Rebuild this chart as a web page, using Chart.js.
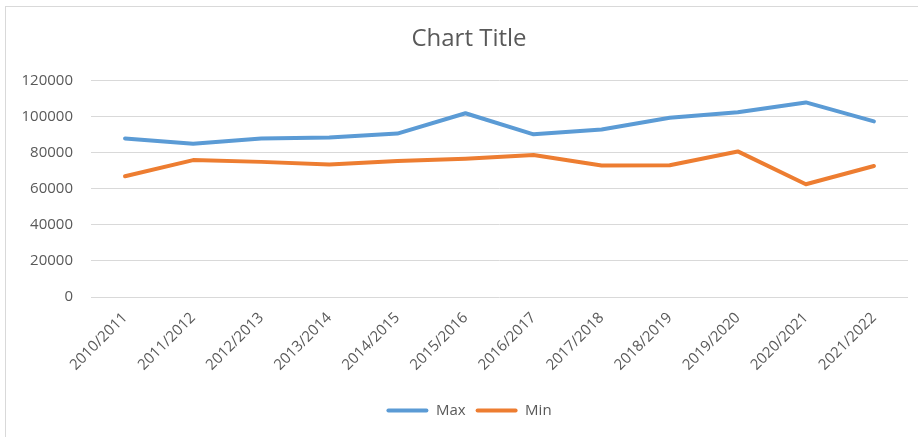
<!DOCTYPE html>
<html>
<head>
<meta charset="utf-8">
<script src="https://cdn.jsdelivr.net/npm/chart.js@4/dist/chart.umd.min.js"></script>
<style>
  html, body { margin: 0; padding: 0; background: #fff; }
  #wrap { position: relative; width: 918px; height: 437px; overflow: hidden; }
  #frame { position: absolute; left: 5px; top: 6px; width: 940px; height: 460px; border: 1px solid #d9d9d9; box-sizing: border-box; pointer-events: none; }
  canvas { position: absolute; left: 0; top: 0; }
</style>
</head>
<body>
<div id="wrap">
  <canvas id="c" width="918" height="437"></canvas>
  <div id="frame"></div>
</div>
<script>
const categories = ["2010/2011","2011/2012","2012/2013","2013/2014","2014/2015","2015/2016","2016/2017","2017/2018","2018/2019","2019/2020","2020/2021","2021/2022"];
const maxValues = [88000, 85000, 88000, 88500, 90700, 102000, 90300, 93000, 99500, 102500, 108000, 97500];
const minValues = [67000, 76000, 75000, 73500, 75500, 76800, 78800, 73000, 73100, 80800, 62600, 72700];
const seriesNames = ["Max", "Min"];
const yTicks = [0, 20000, 40000, 60000, 80000, 100000, 120000];

const FONT = "'Open Sans', 'Liberation Sans', sans-serif";
const TEXT = "#595959";

// shift the title and legend boxes so they are centred like the original
const shiftBoxes = {
  id: 'shiftBoxes',
  afterLayout(chart) {
    const dx = 12.5;
    [chart.titleBlock, chart.legend].forEach(b => {
      if (b) { b.left += dx; b.right += dx; }
    });
  }
};

new Chart(document.getElementById('c'), {
  type: 'line',
  data: {
    labels: categories,
    datasets: [
      { label: seriesNames[0], data: maxValues, borderColor: '#5b9bd5', backgroundColor: '#5b9bd5',
        borderWidth: 4, pointRadius: 0, tension: 0, borderCapStyle: 'round', borderJoinStyle: 'round', fill: false },
      { label: seriesNames[1], data: minValues, borderColor: '#ed7d31', backgroundColor: '#ed7d31',
        borderWidth: 4, pointRadius: 0, tension: 0, borderCapStyle: 'round', borderJoinStyle: 'round', fill: false }
    ]
  },
  plugins: [shiftBoxes],
  options: {
    responsive: false,
    animation: false,
    layout: { padding: { left: 5, right: 10, top: 0, bottom: 9 } },
    plugins: {
      title: {
        display: true, text: 'Chart Title', color: TEXT,
        font: { family: FONT, size: 24, weight: 'normal' },
        padding: { top: 25, bottom: 27 }
      },
      legend: {
        position: 'bottom',
        labels: {
          color: TEXT, font: { family: FONT, size: 15 },
          boxWidth: 42, boxHeight: 4, padding: 10,
          useBorderRadius: true, borderRadius: 2,
          generateLabels: (chart) => Chart.defaults.plugins.legend.labels.generateLabels(chart).map(l => Object.assign(l, { lineWidth: 0 }))
        }
      },
      tooltip: { enabled: false }
    },
    scales: {
      x: {
        offset: true,
        grid: { display: false },
        border: { display: false },
        ticks: { color: TEXT, font: { family: FONT, size: 15 }, maxRotation: 45, minRotation: 45, padding: 4, autoSkip: false },
        afterFit: (s) => { s.height = 96; }
      },
      y: {
        min: 0, max: 120000,
        afterBuildTicks: (s) => { s.ticks = yTicks.map(v => ({ value: v })); },
        grid: { color: '#d9d9d9', lineWidth: 1, drawTicks: false },
        border: { display: false },
        ticks: { color: TEXT, font: { family: FONT, size: 15 }, padding: 18, callback: (v) => String(v) },
        afterFit: (s) => { s.width = 86; }
      }
    }
  }
});
</script>
</body>
</html>
